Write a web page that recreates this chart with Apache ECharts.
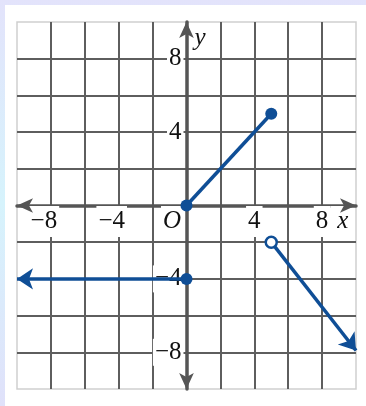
<!DOCTYPE html>
<html lang="en">
<head>
<meta charset="UTF-8">
<title>Piecewise graph</title>
<style>
  html, body { margin: 0; padding: 0; }
  body {
    width: 366px; height: 406px; position: relative; overflow: hidden;
    background: linear-gradient(180deg, #e3e3fb 0%, #d6f3fc 50%, #e0e1fa 100%);
  }
  #main { position: absolute; left: 5px; top: 5px; width: 361px; height: 401px; background: #fff; }
</style>
</head>
<body>
<div id="main"></div>
<script src="https://cdn.jsdelivr.net/npm/echarts@6/dist/echarts.min.js"></script>
<script>
  // tick labels
  const xTicks = [-8, -4, 0, 4, 8];
  const yTicks = [-8, -4, 4, 8];

  // pieces of the graph
  const rayLeft = [[0, -4], [-10, -4]];
  const segment = [[0, 0], [5, 5]];
  const rayRight = [[5, -2], [10, -7.9]];
  const closedDots = [[0, 0], [5, 5], [0, -4]];
  const openDots = [[5, -2]];

  const blue = '#0f4e96';
  const gridGray = '#5e5e5e';
  const font = '"Liberation Serif", serif';

  var chart = echarts.init(document.getElementById('main'));

  const txt = { fontFamily: font, fontSize: 25, color: '#111', lineHeight: 30 };
  const boxed = Object.assign({}, txt, { backgroundColor: '#fff', padding: [3, 2, 3, 2] });

  function xLabel(v) {
    if (v === 0) return '{o|O}{s0|}';
    if (v < 0) return '{t|\u2212' + Math.abs(v) + '}{sm|}';
    if (v === 8) return '{s8|}{t|8}{i|x}';
    return '{t|' + v + '}';
  }
  function yLabel(v) {
    return '{t|' + (v < 0 ? '\u2212' + Math.abs(v) : v) + '}';
  }

  const gridAxis = {
    type: 'value', min: -10, max: 10, interval: 2, z: 0,
    axisLine: { show: false }, axisTick: { show: false }, axisLabel: { show: false },
    splitLine: { show: true, showMinLine: false, showMaxLine: false, lineStyle: { color: gridGray, width: 2 } }
  };
  const mainLine = { onZero: false, symbol: ['arrow', 'arrow'], symbolSize: [11, 16], lineStyle: { color: '#555', width: 3.5 } };

  option = {
    animation: false,
    grid: {
      left: 12, right: 10, top: 17, bottom: 17, containLabel: false, outerBoundsMode: 'none',
      show: true, borderColor: '#cfcfcf', borderWidth: 1.5
    },
    xAxis: [
      Object.assign({}, gridAxis, { position: 'top' }),
      {
        type: 'value', min: -10, max: 10, interval: 2, z: 1, position: 'bottom', offset: 0,
        axisLine: mainLine,
        axisTick: { show: false },
        splitLine: { show: false },
        axisLabel: {
          customValues: xTicks, margin: 1, formatter: xLabel,
          fontFamily: font, fontSize: 25, color: '#111',
          rich: {
            t: boxed,
            o: Object.assign({}, boxed, { fontStyle: 'italic' }),
            i: Object.assign({}, boxed, { fontStyle: 'italic', padding: [3, 2, 3, 7] }),
            s0: { width: 29, lineHeight: 30 },
            sm: { width: 14, lineHeight: 30 },
            s8: { width: 20, lineHeight: 30 }
          }
        }
      }
    ],
    yAxis: [
      Object.assign({}, gridAxis, { position: 'right' }),
      {
        type: 'value', min: -10, max: 10, interval: 2, z: 1, position: 'left', offset: 0,
        axisLine: mainLine,
        axisTick: { show: false },
        splitLine: { show: false },
        name: 'y', nameLocation: 'end', nameGap: -16,
        nameTextStyle: { fontFamily: font, fontStyle: 'italic', fontSize: 25, color: '#111', align: 'left', verticalAlign: 'middle', padding: [0, 0, 0, 8] },
        axisLabel: {
          customValues: yTicks, margin: 3, formatter: yLabel,
          fontFamily: font, fontSize: 25, color: '#111',
          rich: { t: Object.assign({}, boxed, { lineHeight: 24, padding: [1, 2, 1, 2] }) }
        }
      }
    ],
    series: [
      {
        type: 'lines', coordinateSystem: 'cartesian2d', z: 3,
        symbol: ['none', 'arrow'], symbolSize: 16,
        lineStyle: { color: blue, width: 3.5, opacity: 1 },
        data: [{ coords: rayLeft }, { coords: rayRight }]
      },
      {
        type: 'lines', coordinateSystem: 'cartesian2d', z: 3,
        symbol: ['none', 'none'],
        lineStyle: { color: blue, width: 3.5, opacity: 1 },
        data: [{ coords: segment }]
      },
      {
        type: 'scatter', z: 4, symbolSize: 12,
        itemStyle: { color: blue, opacity: 1 },
        data: closedDots
      },
      {
        type: 'scatter', z: 4, symbolSize: 11,
        itemStyle: { color: '#fff', borderColor: blue, borderWidth: 2.5, opacity: 1 },
        data: openDots
      }
    ]
  };

  chart.setOption(option);

  // move the drawn axes (with their labels) onto the origin
  const origin = chart.convertToPixel({ gridIndex: 0 }, [0, 0]);
  const corner = chart.convertToPixel({ gridIndex: 0 }, [-10, -10]);
  chart.setOption({
    xAxis: [{}, { offset: origin[1] - corner[1] }],
    yAxis: [{}, { offset: corner[0] - origin[0] }]
  });
</script>
</body>
</html>
